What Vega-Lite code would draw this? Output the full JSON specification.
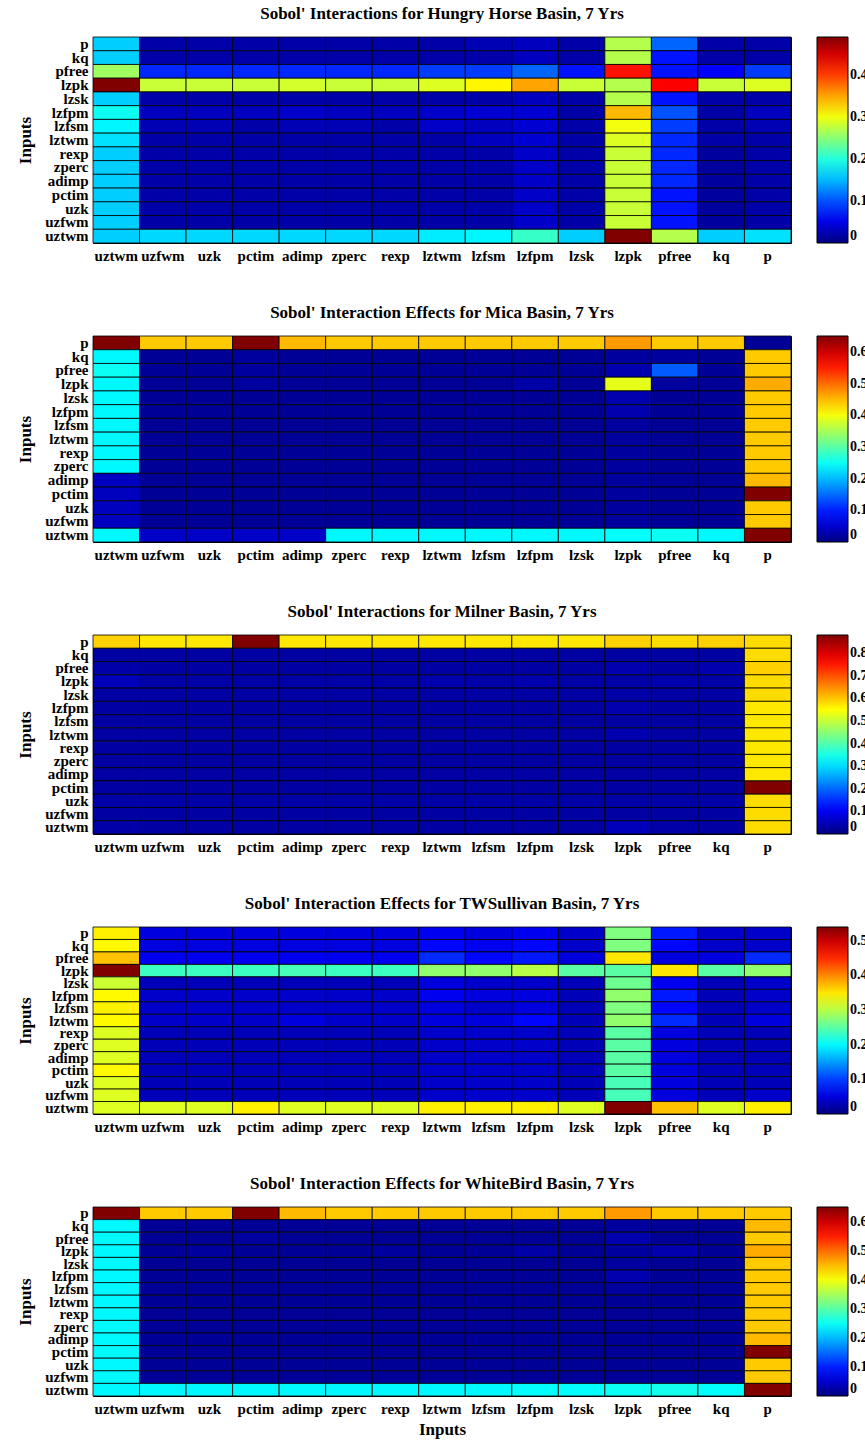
{
"$schema": "https://vega.github.io/schema/vega-lite/v6.json",
"padding": {"left": 16, "top": 4, "right": 0, "bottom": 5},
"background": "white",
"bounds": "flush",
"spacing": 93,
"config": {
  "font": "Liberation Serif",
  "view": {"stroke": "black", "strokeWidth": 1},
  "axis": {"labelFont": "Liberation Serif", "labelFontWeight": "bold", "labelFontSize": 15, "labelColor": "black", "titleFont": "Liberation Serif", "titleFontWeight": "bold", "titleFontSize": 17, "titleColor": "black", "ticks": false, "domain": false, "labelPadding": 5, "labelOverlap": false},
  "legend": {"orient": "right", "offset": 26, "gradientThickness": 31, "gradientStrokeColor": "black", "gradientStrokeWidth": 1, "labelFont": "Liberation Serif", "labelFontWeight": "bold", "labelFontSize": 14, "labelColor": "black", "labelOffset": 4, "padding": 0},
  "title": {"font": "Liberation Serif", "fontSize": 17, "fontWeight": "bold", "color": "black", "offset": 13, "frame": "group", "anchor": "middle", "baseline": "alphabetic"}
},
"resolve": {"scale": {"color": "independent"}},
"datasets": {
"hh": [
{"x":"uztwm","y":"p","v":0.16},{"x":"uzfwm","y":"p","v":0.02},{"x":"uzk","y":"p","v":0.02},{"x":"pctim","y":"p","v":0.02},{"x":"adimp","y":"p","v":0.02},{"x":"zperc","y":"p","v":0.02},{"x":"rexp","y":"p","v":0.02},{"x":"lztwm","y":"p","v":0.02},{"x":"lzfsm","y":"p","v":0.025},{"x":"lzfpm","y":"p","v":0.03},{"x":"lzsk","y":"p","v":0.02},{"x":"lzpk","y":"p","v":0.27},{"x":"pfree","y":"p","v":0.11},{"x":"kq","y":"p","v":0.02},{"x":"p","y":"p","v":0.02},
{"x":"uztwm","y":"kq","v":0.16},{"x":"uzfwm","y":"kq","v":0.02},{"x":"uzk","y":"kq","v":0.02},{"x":"pctim","y":"kq","v":0.02},{"x":"adimp","y":"kq","v":0.02},{"x":"zperc","y":"kq","v":0.02},{"x":"rexp","y":"kq","v":0.02},{"x":"lztwm","y":"kq","v":0.02},{"x":"lzfsm","y":"kq","v":0.02},{"x":"lzfpm","y":"kq","v":0.03},{"x":"lzsk","y":"kq","v":0.02},{"x":"lzpk","y":"kq","v":0.27},{"x":"pfree","y":"kq","v":0.07},{"x":"kq","y":"kq","v":0.02},{"x":"p","y":"kq","v":0.02},
{"x":"uztwm","y":"pfree","v":0.26},{"x":"uzfwm","y":"pfree","v":0.08},{"x":"uzk","y":"pfree","v":0.08},{"x":"pctim","y":"pfree","v":0.08},{"x":"adimp","y":"pfree","v":0.08},{"x":"zperc","y":"pfree","v":0.08},{"x":"rexp","y":"pfree","v":0.08},{"x":"lztwm","y":"pfree","v":0.09},{"x":"lzfsm","y":"pfree","v":0.09},{"x":"lzfpm","y":"pfree","v":0.11},{"x":"lzsk","y":"pfree","v":0.07},{"x":"lzpk","y":"pfree","v":0.42},{"x":"pfree","y":"pfree","v":0.07},{"x":"kq","y":"pfree","v":0.06},{"x":"p","y":"pfree","v":0.09},
{"x":"uztwm","y":"lzpk","v":0.49},{"x":"uzfwm","y":"lzpk","v":0.28},{"x":"uzk","y":"lzpk","v":0.28},{"x":"pctim","y":"lzpk","v":0.28},{"x":"adimp","y":"lzpk","v":0.285},{"x":"zperc","y":"lzpk","v":0.28},{"x":"rexp","y":"lzpk","v":0.28},{"x":"lztwm","y":"lzpk","v":0.29},{"x":"lzfsm","y":"lzpk","v":0.31},{"x":"lzfpm","y":"lzpk","v":0.35},{"x":"lzsk","y":"lzpk","v":0.28},{"x":"lzpk","y":"lzpk","v":0.27},{"x":"pfree","y":"lzpk","v":0.43},{"x":"kq","y":"lzpk","v":0.28},{"x":"p","y":"lzpk","v":0.29},
{"x":"uztwm","y":"lzsk","v":0.16},{"x":"uzfwm","y":"lzsk","v":0.02},{"x":"uzk","y":"lzsk","v":0.02},{"x":"pctim","y":"lzsk","v":0.02},{"x":"adimp","y":"lzsk","v":0.02},{"x":"zperc","y":"lzsk","v":0.02},{"x":"rexp","y":"lzsk","v":0.02},{"x":"lztwm","y":"lzsk","v":0.02},{"x":"lzfsm","y":"lzsk","v":0.02},{"x":"lzfpm","y":"lzsk","v":0.03},{"x":"lzsk","y":"lzsk","v":0.02},{"x":"lzpk","y":"lzsk","v":0.27},{"x":"pfree","y":"lzsk","v":0.07},{"x":"kq","y":"lzsk","v":0.02},{"x":"p","y":"lzsk","v":0.02},
{"x":"uztwm","y":"lzfpm","v":0.19},{"x":"uzfwm","y":"lzfpm","v":0.03},{"x":"uzk","y":"lzfpm","v":0.03},{"x":"pctim","y":"lzfpm","v":0.03},{"x":"adimp","y":"lzfpm","v":0.035},{"x":"zperc","y":"lzfpm","v":0.03},{"x":"rexp","y":"lzfpm","v":0.03},{"x":"lztwm","y":"lzfpm","v":0.035},{"x":"lzfsm","y":"lzfpm","v":0.04},{"x":"lzfpm","y":"lzfpm","v":0.04},{"x":"lzsk","y":"lzfpm","v":0.02},{"x":"lzpk","y":"lzfpm","v":0.34},{"x":"pfree","y":"lzfpm","v":0.1},{"x":"kq","y":"lzfpm","v":0.02},{"x":"p","y":"lzfpm","v":0.03},
{"x":"uztwm","y":"lzfsm","v":0.18},{"x":"uzfwm","y":"lzfsm","v":0.025},{"x":"uzk","y":"lzfsm","v":0.025},{"x":"pctim","y":"lzfsm","v":0.02},{"x":"adimp","y":"lzfsm","v":0.025},{"x":"zperc","y":"lzfsm","v":0.025},{"x":"rexp","y":"lzfsm","v":0.02},{"x":"lztwm","y":"lzfsm","v":0.035},{"x":"lzfsm","y":"lzfsm","v":0.03},{"x":"lzfpm","y":"lzfsm","v":0.04},{"x":"lzsk","y":"lzfsm","v":0.02},{"x":"lzpk","y":"lzfsm","v":0.3},{"x":"pfree","y":"lzfsm","v":0.09},{"x":"kq","y":"lzfsm","v":0.02},{"x":"p","y":"lzfsm","v":0.025},
{"x":"uztwm","y":"lztwm","v":0.17},{"x":"uzfwm","y":"lztwm","v":0.02},{"x":"uzk","y":"lztwm","v":0.02},{"x":"pctim","y":"lztwm","v":0.02},{"x":"adimp","y":"lztwm","v":0.02},{"x":"zperc","y":"lztwm","v":0.02},{"x":"rexp","y":"lztwm","v":0.02},{"x":"lztwm","y":"lztwm","v":0.02},{"x":"lzfsm","y":"lztwm","v":0.03},{"x":"lzfpm","y":"lztwm","v":0.04},{"x":"lzsk","y":"lztwm","v":0.02},{"x":"lzpk","y":"lztwm","v":0.29},{"x":"pfree","y":"lztwm","v":0.08},{"x":"kq","y":"lztwm","v":0.02},{"x":"p","y":"lztwm","v":0.02},
{"x":"uztwm","y":"rexp","v":0.16},{"x":"uzfwm","y":"rexp","v":0.02},{"x":"uzk","y":"rexp","v":0.02},{"x":"pctim","y":"rexp","v":0.02},{"x":"adimp","y":"rexp","v":0.02},{"x":"zperc","y":"rexp","v":0.02},{"x":"rexp","y":"rexp","v":0.02},{"x":"lztwm","y":"rexp","v":0.02},{"x":"lzfsm","y":"rexp","v":0.02},{"x":"lzfpm","y":"rexp","v":0.035},{"x":"lzsk","y":"rexp","v":0.02},{"x":"lzpk","y":"rexp","v":0.28},{"x":"pfree","y":"rexp","v":0.08},{"x":"kq","y":"rexp","v":0.015},{"x":"p","y":"rexp","v":0.02},
{"x":"uztwm","y":"zperc","v":0.16},{"x":"uzfwm","y":"zperc","v":0.02},{"x":"uzk","y":"zperc","v":0.02},{"x":"pctim","y":"zperc","v":0.02},{"x":"adimp","y":"zperc","v":0.02},{"x":"zperc","y":"zperc","v":0.02},{"x":"rexp","y":"zperc","v":0.02},{"x":"lztwm","y":"zperc","v":0.02},{"x":"lzfsm","y":"zperc","v":0.02},{"x":"lzfpm","y":"zperc","v":0.035},{"x":"lzsk","y":"zperc","v":0.02},{"x":"lzpk","y":"zperc","v":0.28},{"x":"pfree","y":"zperc","v":0.08},{"x":"kq","y":"zperc","v":0.015},{"x":"p","y":"zperc","v":0.02},
{"x":"uztwm","y":"adimp","v":0.16},{"x":"uzfwm","y":"adimp","v":0.02},{"x":"uzk","y":"adimp","v":0.02},{"x":"pctim","y":"adimp","v":0.02},{"x":"adimp","y":"adimp","v":0.02},{"x":"zperc","y":"adimp","v":0.02},{"x":"rexp","y":"adimp","v":0.02},{"x":"lztwm","y":"adimp","v":0.02},{"x":"lzfsm","y":"adimp","v":0.02},{"x":"lzfpm","y":"adimp","v":0.035},{"x":"lzsk","y":"adimp","v":0.02},{"x":"lzpk","y":"adimp","v":0.28},{"x":"pfree","y":"adimp","v":0.08},{"x":"kq","y":"adimp","v":0.015},{"x":"p","y":"adimp","v":0.02},
{"x":"uztwm","y":"pctim","v":0.16},{"x":"uzfwm","y":"pctim","v":0.02},{"x":"uzk","y":"pctim","v":0.02},{"x":"pctim","y":"pctim","v":0.02},{"x":"adimp","y":"pctim","v":0.02},{"x":"zperc","y":"pctim","v":0.02},{"x":"rexp","y":"pctim","v":0.02},{"x":"lztwm","y":"pctim","v":0.02},{"x":"lzfsm","y":"pctim","v":0.02},{"x":"lzfpm","y":"pctim","v":0.035},{"x":"lzsk","y":"pctim","v":0.02},{"x":"lzpk","y":"pctim","v":0.28},{"x":"pfree","y":"pctim","v":0.07},{"x":"kq","y":"pctim","v":0.015},{"x":"p","y":"pctim","v":0.02},
{"x":"uztwm","y":"uzk","v":0.16},{"x":"uzfwm","y":"uzk","v":0.02},{"x":"uzk","y":"uzk","v":0.02},{"x":"pctim","y":"uzk","v":0.02},{"x":"adimp","y":"uzk","v":0.02},{"x":"zperc","y":"uzk","v":0.02},{"x":"rexp","y":"uzk","v":0.02},{"x":"lztwm","y":"uzk","v":0.02},{"x":"lzfsm","y":"uzk","v":0.02},{"x":"lzfpm","y":"uzk","v":0.035},{"x":"lzsk","y":"uzk","v":0.02},{"x":"lzpk","y":"uzk","v":0.28},{"x":"pfree","y":"uzk","v":0.07},{"x":"kq","y":"uzk","v":0.015},{"x":"p","y":"uzk","v":0.02},
{"x":"uztwm","y":"uzfwm","v":0.16},{"x":"uzfwm","y":"uzfwm","v":0.02},{"x":"uzk","y":"uzfwm","v":0.02},{"x":"pctim","y":"uzfwm","v":0.02},{"x":"adimp","y":"uzfwm","v":0.02},{"x":"zperc","y":"uzfwm","v":0.02},{"x":"rexp","y":"uzfwm","v":0.02},{"x":"lztwm","y":"uzfwm","v":0.02},{"x":"lzfsm","y":"uzfwm","v":0.02},{"x":"lzfpm","y":"uzfwm","v":0.035},{"x":"lzsk","y":"uzfwm","v":0.02},{"x":"lzpk","y":"uzfwm","v":0.28},{"x":"pfree","y":"uzfwm","v":0.07},{"x":"kq","y":"uzfwm","v":0.015},{"x":"p","y":"uzfwm","v":0.02},
{"x":"uztwm","y":"uztwm","v":0.16},{"x":"uzfwm","y":"uztwm","v":0.165},{"x":"uzk","y":"uztwm","v":0.165},{"x":"pctim","y":"uztwm","v":0.165},{"x":"adimp","y":"uztwm","v":0.165},{"x":"zperc","y":"uztwm","v":0.165},{"x":"rexp","y":"uztwm","v":0.165},{"x":"lztwm","y":"uztwm","v":0.175},{"x":"lzfsm","y":"uztwm","v":0.18},{"x":"lzfpm","y":"uztwm","v":0.21},{"x":"lzsk","y":"uztwm","v":0.16},{"x":"lzpk","y":"uztwm","v":0.49},{"x":"pfree","y":"uztwm","v":0.27},{"x":"kq","y":"uztwm","v":0.16},{"x":"p","y":"uztwm","v":0.17}
],
"mica": [
{"x":"uztwm","y":"p","v":0.65},{"x":"uzfwm","y":"p","v":0.44},{"x":"uzk","y":"p","v":0.44},{"x":"pctim","y":"p","v":0.65},{"x":"adimp","y":"p","v":0.45},{"x":"zperc","y":"p","v":0.44},{"x":"rexp","y":"p","v":0.44},{"x":"lztwm","y":"p","v":0.44},{"x":"lzfsm","y":"p","v":0.44},{"x":"lzfpm","y":"p","v":0.44},{"x":"lzsk","y":"p","v":0.44},{"x":"lzpk","y":"p","v":0.47},{"x":"pfree","y":"p","v":0.44},{"x":"kq","y":"p","v":0.44},{"x":"p","y":"p","v":0.015},
{"x":"uztwm","y":"kq","v":0.24},{"x":"uzfwm","y":"kq","v":0.015},{"x":"uzk","y":"kq","v":0.015},{"x":"pctim","y":"kq","v":0.02},{"x":"adimp","y":"kq","v":0.015},{"x":"zperc","y":"kq","v":0.015},{"x":"rexp","y":"kq","v":0.015},{"x":"lztwm","y":"kq","v":0.015},{"x":"lzfsm","y":"kq","v":0.015},{"x":"lzfpm","y":"kq","v":0.015},{"x":"lzsk","y":"kq","v":0.015},{"x":"lzpk","y":"kq","v":0.02},{"x":"pfree","y":"kq","v":0.02},{"x":"kq","y":"kq","v":0.015},{"x":"p","y":"kq","v":0.44},
{"x":"uztwm","y":"pfree","v":0.25},{"x":"uzfwm","y":"pfree","v":0.015},{"x":"uzk","y":"pfree","v":0.015},{"x":"pctim","y":"pfree","v":0.02},{"x":"adimp","y":"pfree","v":0.015},{"x":"zperc","y":"pfree","v":0.015},{"x":"rexp","y":"pfree","v":0.015},{"x":"lztwm","y":"pfree","v":0.015},{"x":"lzfsm","y":"pfree","v":0.015},{"x":"lzfpm","y":"pfree","v":0.015},{"x":"lzsk","y":"pfree","v":0.015},{"x":"lzpk","y":"pfree","v":0.03},{"x":"pfree","y":"pfree","v":0.14},{"x":"kq","y":"pfree","v":0.015},{"x":"p","y":"pfree","v":0.44},
{"x":"uztwm","y":"lzpk","v":0.24},{"x":"uzfwm","y":"lzpk","v":0.015},{"x":"uzk","y":"lzpk","v":0.015},{"x":"pctim","y":"lzpk","v":0.02},{"x":"adimp","y":"lzpk","v":0.015},{"x":"zperc","y":"lzpk","v":0.015},{"x":"rexp","y":"lzpk","v":0.015},{"x":"lztwm","y":"lzpk","v":0.015},{"x":"lzfsm","y":"lzpk","v":0.015},{"x":"lzfpm","y":"lzpk","v":0.025},{"x":"lzsk","y":"lzpk","v":0.015},{"x":"lzpk","y":"lzpk","v":0.39},{"x":"pfree","y":"lzpk","v":0.02},{"x":"kq","y":"lzpk","v":0.015},{"x":"p","y":"lzpk","v":0.46},
{"x":"uztwm","y":"lzsk","v":0.24},{"x":"uzfwm","y":"lzsk","v":0.015},{"x":"uzk","y":"lzsk","v":0.015},{"x":"pctim","y":"lzsk","v":0.015},{"x":"adimp","y":"lzsk","v":0.015},{"x":"zperc","y":"lzsk","v":0.015},{"x":"rexp","y":"lzsk","v":0.015},{"x":"lztwm","y":"lzsk","v":0.015},{"x":"lzfsm","y":"lzsk","v":0.015},{"x":"lzfpm","y":"lzsk","v":0.015},{"x":"lzsk","y":"lzsk","v":0.015},{"x":"lzpk","y":"lzsk","v":0.03},{"x":"pfree","y":"lzsk","v":0.015},{"x":"kq","y":"lzsk","v":0.015},{"x":"p","y":"lzsk","v":0.44},
{"x":"uztwm","y":"lzfpm","v":0.24},{"x":"uzfwm","y":"lzfpm","v":0.015},{"x":"uzk","y":"lzfpm","v":0.015},{"x":"pctim","y":"lzfpm","v":0.015},{"x":"adimp","y":"lzfpm","v":0.015},{"x":"zperc","y":"lzfpm","v":0.015},{"x":"rexp","y":"lzfpm","v":0.015},{"x":"lztwm","y":"lzfpm","v":0.015},{"x":"lzfsm","y":"lzfpm","v":0.015},{"x":"lzfpm","y":"lzfpm","v":0.015},{"x":"lzsk","y":"lzfpm","v":0.015},{"x":"lzpk","y":"lzfpm","v":0.03},{"x":"pfree","y":"lzfpm","v":0.015},{"x":"kq","y":"lzfpm","v":0.015},{"x":"p","y":"lzfpm","v":0.44},
{"x":"uztwm","y":"lzfsm","v":0.24},{"x":"uzfwm","y":"lzfsm","v":0.015},{"x":"uzk","y":"lzfsm","v":0.015},{"x":"pctim","y":"lzfsm","v":0.015},{"x":"adimp","y":"lzfsm","v":0.015},{"x":"zperc","y":"lzfsm","v":0.015},{"x":"rexp","y":"lzfsm","v":0.015},{"x":"lztwm","y":"lzfsm","v":0.015},{"x":"lzfsm","y":"lzfsm","v":0.015},{"x":"lzfpm","y":"lzfsm","v":0.015},{"x":"lzsk","y":"lzfsm","v":0.015},{"x":"lzpk","y":"lzfsm","v":0.02},{"x":"pfree","y":"lzfsm","v":0.015},{"x":"kq","y":"lzfsm","v":0.015},{"x":"p","y":"lzfsm","v":0.44},
{"x":"uztwm","y":"lztwm","v":0.24},{"x":"uzfwm","y":"lztwm","v":0.015},{"x":"uzk","y":"lztwm","v":0.015},{"x":"pctim","y":"lztwm","v":0.015},{"x":"adimp","y":"lztwm","v":0.015},{"x":"zperc","y":"lztwm","v":0.015},{"x":"rexp","y":"lztwm","v":0.015},{"x":"lztwm","y":"lztwm","v":0.015},{"x":"lzfsm","y":"lztwm","v":0.015},{"x":"lzfpm","y":"lztwm","v":0.015},{"x":"lzsk","y":"lztwm","v":0.015},{"x":"lzpk","y":"lztwm","v":0.02},{"x":"pfree","y":"lztwm","v":0.015},{"x":"kq","y":"lztwm","v":0.015},{"x":"p","y":"lztwm","v":0.44},
{"x":"uztwm","y":"rexp","v":0.24},{"x":"uzfwm","y":"rexp","v":0.015},{"x":"uzk","y":"rexp","v":0.015},{"x":"pctim","y":"rexp","v":0.015},{"x":"adimp","y":"rexp","v":0.015},{"x":"zperc","y":"rexp","v":0.015},{"x":"rexp","y":"rexp","v":0.015},{"x":"lztwm","y":"rexp","v":0.015},{"x":"lzfsm","y":"rexp","v":0.015},{"x":"lzfpm","y":"rexp","v":0.015},{"x":"lzsk","y":"rexp","v":0.015},{"x":"lzpk","y":"rexp","v":0.02},{"x":"pfree","y":"rexp","v":0.015},{"x":"kq","y":"rexp","v":0.015},{"x":"p","y":"rexp","v":0.44},
{"x":"uztwm","y":"zperc","v":0.24},{"x":"uzfwm","y":"zperc","v":0.015},{"x":"uzk","y":"zperc","v":0.015},{"x":"pctim","y":"zperc","v":0.015},{"x":"adimp","y":"zperc","v":0.015},{"x":"zperc","y":"zperc","v":0.015},{"x":"rexp","y":"zperc","v":0.015},{"x":"lztwm","y":"zperc","v":0.015},{"x":"lzfsm","y":"zperc","v":0.015},{"x":"lzfpm","y":"zperc","v":0.015},{"x":"lzsk","y":"zperc","v":0.015},{"x":"lzpk","y":"zperc","v":0.02},{"x":"pfree","y":"zperc","v":0.015},{"x":"kq","y":"zperc","v":0.015},{"x":"p","y":"zperc","v":0.44},
{"x":"uztwm","y":"adimp","v":0.04},{"x":"uzfwm","y":"adimp","v":0.015},{"x":"uzk","y":"adimp","v":0.015},{"x":"pctim","y":"adimp","v":0.015},{"x":"adimp","y":"adimp","v":0.015},{"x":"zperc","y":"adimp","v":0.015},{"x":"rexp","y":"adimp","v":0.015},{"x":"lztwm","y":"adimp","v":0.015},{"x":"lzfsm","y":"adimp","v":0.015},{"x":"lzfpm","y":"adimp","v":0.015},{"x":"lzsk","y":"adimp","v":0.015},{"x":"lzpk","y":"adimp","v":0.02},{"x":"pfree","y":"adimp","v":0.015},{"x":"kq","y":"adimp","v":0.015},{"x":"p","y":"adimp","v":0.45},
{"x":"uztwm","y":"pctim","v":0.04},{"x":"uzfwm","y":"pctim","v":0.015},{"x":"uzk","y":"pctim","v":0.015},{"x":"pctim","y":"pctim","v":0.015},{"x":"adimp","y":"pctim","v":0.015},{"x":"zperc","y":"pctim","v":0.015},{"x":"rexp","y":"pctim","v":0.015},{"x":"lztwm","y":"pctim","v":0.015},{"x":"lzfsm","y":"pctim","v":0.015},{"x":"lzfpm","y":"pctim","v":0.015},{"x":"lzsk","y":"pctim","v":0.015},{"x":"lzpk","y":"pctim","v":0.02},{"x":"pfree","y":"pctim","v":0.015},{"x":"kq","y":"pctim","v":0.015},{"x":"p","y":"pctim","v":0.65},
{"x":"uztwm","y":"uzk","v":0.04},{"x":"uzfwm","y":"uzk","v":0.015},{"x":"uzk","y":"uzk","v":0.015},{"x":"pctim","y":"uzk","v":0.015},{"x":"adimp","y":"uzk","v":0.015},{"x":"zperc","y":"uzk","v":0.015},{"x":"rexp","y":"uzk","v":0.015},{"x":"lztwm","y":"uzk","v":0.015},{"x":"lzfsm","y":"uzk","v":0.015},{"x":"lzfpm","y":"uzk","v":0.015},{"x":"lzsk","y":"uzk","v":0.015},{"x":"lzpk","y":"uzk","v":0.02},{"x":"pfree","y":"uzk","v":0.015},{"x":"kq","y":"uzk","v":0.015},{"x":"p","y":"uzk","v":0.44},
{"x":"uztwm","y":"uzfwm","v":0.04},{"x":"uzfwm","y":"uzfwm","v":0.015},{"x":"uzk","y":"uzfwm","v":0.015},{"x":"pctim","y":"uzfwm","v":0.015},{"x":"adimp","y":"uzfwm","v":0.015},{"x":"zperc","y":"uzfwm","v":0.015},{"x":"rexp","y":"uzfwm","v":0.015},{"x":"lztwm","y":"uzfwm","v":0.015},{"x":"lzfsm","y":"uzfwm","v":0.015},{"x":"lzfpm","y":"uzfwm","v":0.015},{"x":"lzsk","y":"uzfwm","v":0.015},{"x":"lzpk","y":"uzfwm","v":0.02},{"x":"pfree","y":"uzfwm","v":0.015},{"x":"kq","y":"uzfwm","v":0.015},{"x":"p","y":"uzfwm","v":0.44},
{"x":"uztwm","y":"uztwm","v":0.24},{"x":"uzfwm","y":"uztwm","v":0.045},{"x":"uzk","y":"uztwm","v":0.045},{"x":"pctim","y":"uztwm","v":0.045},{"x":"adimp","y":"uztwm","v":0.045},{"x":"zperc","y":"uztwm","v":0.24},{"x":"rexp","y":"uztwm","v":0.24},{"x":"lztwm","y":"uztwm","v":0.24},{"x":"lzfsm","y":"uztwm","v":0.24},{"x":"lzfpm","y":"uztwm","v":0.24},{"x":"lzsk","y":"uztwm","v":0.24},{"x":"lzpk","y":"uztwm","v":0.245},{"x":"pfree","y":"uztwm","v":0.25},{"x":"kq","y":"uztwm","v":0.24},{"x":"p","y":"uztwm","v":0.65}
],
"milner": [
{"x":"uztwm","y":"p","v":0.59},{"x":"uzfwm","y":"p","v":0.57},{"x":"uzk","y":"p","v":0.57},{"x":"pctim","y":"p","v":0.88},{"x":"adimp","y":"p","v":0.57},{"x":"zperc","y":"p","v":0.57},{"x":"rexp","y":"p","v":0.57},{"x":"lztwm","y":"p","v":0.57},{"x":"lzfsm","y":"p","v":0.57},{"x":"lzfpm","y":"p","v":0.57},{"x":"lzsk","y":"p","v":0.57},{"x":"lzpk","y":"p","v":0.59},{"x":"pfree","y":"p","v":0.58},{"x":"kq","y":"p","v":0.59},{"x":"p","y":"p","v":0.58},
{"x":"uztwm","y":"kq","v":0.03},{"x":"uzfwm","y":"kq","v":0.03},{"x":"uzk","y":"kq","v":0.03},{"x":"pctim","y":"kq","v":0.03},{"x":"adimp","y":"kq","v":0.03},{"x":"zperc","y":"kq","v":0.03},{"x":"rexp","y":"kq","v":0.03},{"x":"lztwm","y":"kq","v":0.03},{"x":"lzfsm","y":"kq","v":0.03},{"x":"lzfpm","y":"kq","v":0.03},{"x":"lzsk","y":"kq","v":0.03},{"x":"lzpk","y":"kq","v":0.03},{"x":"pfree","y":"kq","v":0.03},{"x":"kq","y":"kq","v":0.03},{"x":"p","y":"kq","v":0.58},
{"x":"uztwm","y":"pfree","v":0.035},{"x":"uzfwm","y":"pfree","v":0.03},{"x":"uzk","y":"pfree","v":0.03},{"x":"pctim","y":"pfree","v":0.03},{"x":"adimp","y":"pfree","v":0.03},{"x":"zperc","y":"pfree","v":0.03},{"x":"rexp","y":"pfree","v":0.03},{"x":"lztwm","y":"pfree","v":0.03},{"x":"lzfsm","y":"pfree","v":0.03},{"x":"lzfpm","y":"pfree","v":0.03},{"x":"lzsk","y":"pfree","v":0.03},{"x":"lzpk","y":"pfree","v":0.04},{"x":"pfree","y":"pfree","v":0.03},{"x":"kq","y":"pfree","v":0.04},{"x":"p","y":"pfree","v":0.59},
{"x":"uztwm","y":"lzpk","v":0.05},{"x":"uzfwm","y":"lzpk","v":0.035},{"x":"uzk","y":"lzpk","v":0.035},{"x":"pctim","y":"lzpk","v":0.035},{"x":"adimp","y":"lzpk","v":0.035},{"x":"zperc","y":"lzpk","v":0.035},{"x":"rexp","y":"lzpk","v":0.035},{"x":"lztwm","y":"lzpk","v":0.04},{"x":"lzfsm","y":"lzpk","v":0.035},{"x":"lzfpm","y":"lzpk","v":0.04},{"x":"lzsk","y":"lzpk","v":0.035},{"x":"lzpk","y":"lzpk","v":0.035},{"x":"pfree","y":"lzpk","v":0.04},{"x":"kq","y":"lzpk","v":0.035},{"x":"p","y":"lzpk","v":0.58},
{"x":"uztwm","y":"lzsk","v":0.03},{"x":"uzfwm","y":"lzsk","v":0.03},{"x":"uzk","y":"lzsk","v":0.03},{"x":"pctim","y":"lzsk","v":0.03},{"x":"adimp","y":"lzsk","v":0.03},{"x":"zperc","y":"lzsk","v":0.03},{"x":"rexp","y":"lzsk","v":0.03},{"x":"lztwm","y":"lzsk","v":0.03},{"x":"lzfsm","y":"lzsk","v":0.03},{"x":"lzfpm","y":"lzsk","v":0.03},{"x":"lzsk","y":"lzsk","v":0.03},{"x":"lzpk","y":"lzsk","v":0.035},{"x":"pfree","y":"lzsk","v":0.03},{"x":"kq","y":"lzsk","v":0.03},{"x":"p","y":"lzsk","v":0.58},
{"x":"uztwm","y":"lzfpm","v":0.03},{"x":"uzfwm","y":"lzfpm","v":0.03},{"x":"uzk","y":"lzfpm","v":0.03},{"x":"pctim","y":"lzfpm","v":0.03},{"x":"adimp","y":"lzfpm","v":0.03},{"x":"zperc","y":"lzfpm","v":0.03},{"x":"rexp","y":"lzfpm","v":0.03},{"x":"lztwm","y":"lzfpm","v":0.03},{"x":"lzfsm","y":"lzfpm","v":0.03},{"x":"lzfpm","y":"lzfpm","v":0.03},{"x":"lzsk","y":"lzfpm","v":0.03},{"x":"lzpk","y":"lzfpm","v":0.04},{"x":"pfree","y":"lzfpm","v":0.03},{"x":"kq","y":"lzfpm","v":0.03},{"x":"p","y":"lzfpm","v":0.57},
{"x":"uztwm","y":"lzfsm","v":0.03},{"x":"uzfwm","y":"lzfsm","v":0.03},{"x":"uzk","y":"lzfsm","v":0.03},{"x":"pctim","y":"lzfsm","v":0.03},{"x":"adimp","y":"lzfsm","v":0.03},{"x":"zperc","y":"lzfsm","v":0.03},{"x":"rexp","y":"lzfsm","v":0.03},{"x":"lztwm","y":"lzfsm","v":0.03},{"x":"lzfsm","y":"lzfsm","v":0.03},{"x":"lzfpm","y":"lzfsm","v":0.03},{"x":"lzsk","y":"lzfsm","v":0.03},{"x":"lzpk","y":"lzfsm","v":0.03},{"x":"pfree","y":"lzfsm","v":0.03},{"x":"kq","y":"lzfsm","v":0.03},{"x":"p","y":"lzfsm","v":0.57},
{"x":"uztwm","y":"lztwm","v":0.03},{"x":"uzfwm","y":"lztwm","v":0.03},{"x":"uzk","y":"lztwm","v":0.03},{"x":"pctim","y":"lztwm","v":0.03},{"x":"adimp","y":"lztwm","v":0.03},{"x":"zperc","y":"lztwm","v":0.03},{"x":"rexp","y":"lztwm","v":0.03},{"x":"lztwm","y":"lztwm","v":0.03},{"x":"lzfsm","y":"lztwm","v":0.03},{"x":"lzfpm","y":"lztwm","v":0.03},{"x":"lzsk","y":"lztwm","v":0.03},{"x":"lzpk","y":"lztwm","v":0.04},{"x":"pfree","y":"lztwm","v":0.03},{"x":"kq","y":"lztwm","v":0.03},{"x":"p","y":"lztwm","v":0.57},
{"x":"uztwm","y":"rexp","v":0.03},{"x":"uzfwm","y":"rexp","v":0.03},{"x":"uzk","y":"rexp","v":0.03},{"x":"pctim","y":"rexp","v":0.03},{"x":"adimp","y":"rexp","v":0.03},{"x":"zperc","y":"rexp","v":0.03},{"x":"rexp","y":"rexp","v":0.03},{"x":"lztwm","y":"rexp","v":0.03},{"x":"lzfsm","y":"rexp","v":0.03},{"x":"lzfpm","y":"rexp","v":0.03},{"x":"lzsk","y":"rexp","v":0.03},{"x":"lzpk","y":"rexp","v":0.03},{"x":"pfree","y":"rexp","v":0.03},{"x":"kq","y":"rexp","v":0.03},{"x":"p","y":"rexp","v":0.57},
{"x":"uztwm","y":"zperc","v":0.03},{"x":"uzfwm","y":"zperc","v":0.03},{"x":"uzk","y":"zperc","v":0.03},{"x":"pctim","y":"zperc","v":0.03},{"x":"adimp","y":"zperc","v":0.03},{"x":"zperc","y":"zperc","v":0.03},{"x":"rexp","y":"zperc","v":0.03},{"x":"lztwm","y":"zperc","v":0.03},{"x":"lzfsm","y":"zperc","v":0.03},{"x":"lzfpm","y":"zperc","v":0.03},{"x":"lzsk","y":"zperc","v":0.03},{"x":"lzpk","y":"zperc","v":0.03},{"x":"pfree","y":"zperc","v":0.03},{"x":"kq","y":"zperc","v":0.03},{"x":"p","y":"zperc","v":0.57},
{"x":"uztwm","y":"adimp","v":0.03},{"x":"uzfwm","y":"adimp","v":0.03},{"x":"uzk","y":"adimp","v":0.03},{"x":"pctim","y":"adimp","v":0.03},{"x":"adimp","y":"adimp","v":0.03},{"x":"zperc","y":"adimp","v":0.03},{"x":"rexp","y":"adimp","v":0.03},{"x":"lztwm","y":"adimp","v":0.03},{"x":"lzfsm","y":"adimp","v":0.03},{"x":"lzfpm","y":"adimp","v":0.03},{"x":"lzsk","y":"adimp","v":0.03},{"x":"lzpk","y":"adimp","v":0.03},{"x":"pfree","y":"adimp","v":0.03},{"x":"kq","y":"adimp","v":0.03},{"x":"p","y":"adimp","v":0.57},
{"x":"uztwm","y":"pctim","v":0.03},{"x":"uzfwm","y":"pctim","v":0.03},{"x":"uzk","y":"pctim","v":0.03},{"x":"pctim","y":"pctim","v":0.03},{"x":"adimp","y":"pctim","v":0.03},{"x":"zperc","y":"pctim","v":0.03},{"x":"rexp","y":"pctim","v":0.03},{"x":"lztwm","y":"pctim","v":0.03},{"x":"lzfsm","y":"pctim","v":0.03},{"x":"lzfpm","y":"pctim","v":0.03},{"x":"lzsk","y":"pctim","v":0.03},{"x":"lzpk","y":"pctim","v":0.03},{"x":"pfree","y":"pctim","v":0.03},{"x":"kq","y":"pctim","v":0.03},{"x":"p","y":"pctim","v":0.88},
{"x":"uztwm","y":"uzk","v":0.035},{"x":"uzfwm","y":"uzk","v":0.035},{"x":"uzk","y":"uzk","v":0.035},{"x":"pctim","y":"uzk","v":0.035},{"x":"adimp","y":"uzk","v":0.035},{"x":"zperc","y":"uzk","v":0.035},{"x":"rexp","y":"uzk","v":0.035},{"x":"lztwm","y":"uzk","v":0.035},{"x":"lzfsm","y":"uzk","v":0.035},{"x":"lzfpm","y":"uzk","v":0.035},{"x":"lzsk","y":"uzk","v":0.035},{"x":"lzpk","y":"uzk","v":0.035},{"x":"pfree","y":"uzk","v":0.035},{"x":"kq","y":"uzk","v":0.035},{"x":"p","y":"uzk","v":0.58},
{"x":"uztwm","y":"uzfwm","v":0.03},{"x":"uzfwm","y":"uzfwm","v":0.03},{"x":"uzk","y":"uzfwm","v":0.03},{"x":"pctim","y":"uzfwm","v":0.03},{"x":"adimp","y":"uzfwm","v":0.03},{"x":"zperc","y":"uzfwm","v":0.03},{"x":"rexp","y":"uzfwm","v":0.03},{"x":"lztwm","y":"uzfwm","v":0.03},{"x":"lzfsm","y":"uzfwm","v":0.03},{"x":"lzfpm","y":"uzfwm","v":0.03},{"x":"lzsk","y":"uzfwm","v":0.03},{"x":"lzpk","y":"uzfwm","v":0.03},{"x":"pfree","y":"uzfwm","v":0.03},{"x":"kq","y":"uzfwm","v":0.03},{"x":"p","y":"uzfwm","v":0.58},
{"x":"uztwm","y":"uztwm","v":0.035},{"x":"uzfwm","y":"uztwm","v":0.03},{"x":"uzk","y":"uztwm","v":0.03},{"x":"pctim","y":"uztwm","v":0.03},{"x":"adimp","y":"uztwm","v":0.03},{"x":"zperc","y":"uztwm","v":0.03},{"x":"rexp","y":"uztwm","v":0.03},{"x":"lztwm","y":"uztwm","v":0.03},{"x":"lzfsm","y":"uztwm","v":0.03},{"x":"lzfpm","y":"uztwm","v":0.03},{"x":"lzsk","y":"uztwm","v":0.03},{"x":"lzpk","y":"uztwm","v":0.05},{"x":"pfree","y":"uztwm","v":0.035},{"x":"kq","y":"uztwm","v":0.03},{"x":"p","y":"uztwm","v":0.58}
],
"tws": [
{"x":"uztwm","y":"p","v":0.345},{"x":"uzfwm","y":"p","v":0.05},{"x":"uzk","y":"p","v":0.05},{"x":"pctim","y":"p","v":0.05},{"x":"adimp","y":"p","v":0.05},{"x":"zperc","y":"p","v":0.05},{"x":"rexp","y":"p","v":0.05},{"x":"lztwm","y":"p","v":0.06},{"x":"lzfsm","y":"p","v":0.05},{"x":"lzfpm","y":"p","v":0.06},{"x":"lzsk","y":"p","v":0.04},{"x":"lzpk","y":"p","v":0.27},{"x":"pfree","y":"p","v":0.08},{"x":"kq","y":"p","v":0.04},{"x":"p","y":"p","v":0.04},
{"x":"uztwm","y":"kq","v":0.34},{"x":"uzfwm","y":"kq","v":0.05},{"x":"uzk","y":"kq","v":0.05},{"x":"pctim","y":"kq","v":0.05},{"x":"adimp","y":"kq","v":0.05},{"x":"zperc","y":"kq","v":0.05},{"x":"rexp","y":"kq","v":0.05},{"x":"lztwm","y":"kq","v":0.07},{"x":"lzfsm","y":"kq","v":0.06},{"x":"lzfpm","y":"kq","v":0.07},{"x":"lzsk","y":"kq","v":0.04},{"x":"lzpk","y":"kq","v":0.27},{"x":"pfree","y":"kq","v":0.07},{"x":"kq","y":"kq","v":0.04},{"x":"p","y":"kq","v":0.04},
{"x":"uztwm","y":"pfree","v":0.37},{"x":"uzfwm","y":"pfree","v":0.06},{"x":"uzk","y":"pfree","v":0.06},{"x":"pctim","y":"pfree","v":0.06},{"x":"adimp","y":"pfree","v":0.06},{"x":"zperc","y":"pfree","v":0.06},{"x":"rexp","y":"pfree","v":0.06},{"x":"lztwm","y":"pfree","v":0.09},{"x":"lzfsm","y":"pfree","v":0.07},{"x":"lzfpm","y":"pfree","v":0.08},{"x":"lzsk","y":"pfree","v":0.05},{"x":"lzpk","y":"pfree","v":0.35},{"x":"pfree","y":"pfree","v":0.05},{"x":"kq","y":"pfree","v":0.05},{"x":"p","y":"pfree","v":0.09},
{"x":"uztwm","y":"lzpk","v":0.54},{"x":"uzfwm","y":"lzpk","v":0.235},{"x":"uzk","y":"lzpk","v":0.235},{"x":"pctim","y":"lzpk","v":0.235},{"x":"adimp","y":"lzpk","v":0.24},{"x":"zperc","y":"lzpk","v":0.235},{"x":"rexp","y":"lzpk","v":0.235},{"x":"lztwm","y":"lzpk","v":0.28},{"x":"lzfsm","y":"lzpk","v":0.28},{"x":"lzfpm","y":"lzpk","v":0.3},{"x":"lzsk","y":"lzpk","v":0.25},{"x":"lzpk","y":"lzpk","v":0.25},{"x":"pfree","y":"lzpk","v":0.35},{"x":"kq","y":"lzpk","v":0.25},{"x":"p","y":"lzpk","v":0.28},
{"x":"uztwm","y":"lzsk","v":0.31},{"x":"uzfwm","y":"lzsk","v":0.03},{"x":"uzk","y":"lzsk","v":0.03},{"x":"pctim","y":"lzsk","v":0.03},{"x":"adimp","y":"lzsk","v":0.03},{"x":"zperc","y":"lzsk","v":0.03},{"x":"rexp","y":"lzsk","v":0.03},{"x":"lztwm","y":"lzsk","v":0.05},{"x":"lzfsm","y":"lzsk","v":0.04},{"x":"lzfpm","y":"lzsk","v":0.04},{"x":"lzsk","y":"lzsk","v":0.03},{"x":"lzpk","y":"lzsk","v":0.26},{"x":"pfree","y":"lzsk","v":0.06},{"x":"kq","y":"lzsk","v":0.03},{"x":"p","y":"lzsk","v":0.04},
{"x":"uztwm","y":"lzfpm","v":0.34},{"x":"uzfwm","y":"lzfpm","v":0.04},{"x":"uzk","y":"lzfpm","v":0.04},{"x":"pctim","y":"lzfpm","v":0.04},{"x":"adimp","y":"lzfpm","v":0.04},{"x":"zperc","y":"lzfpm","v":0.04},{"x":"rexp","y":"lzfpm","v":0.04},{"x":"lztwm","y":"lzfpm","v":0.06},{"x":"lzfsm","y":"lzfpm","v":0.05},{"x":"lzfpm","y":"lzfpm","v":0.05},{"x":"lzsk","y":"lzfpm","v":0.03},{"x":"lzpk","y":"lzfpm","v":0.28},{"x":"pfree","y":"lzfpm","v":0.08},{"x":"kq","y":"lzfpm","v":0.03},{"x":"p","y":"lzfpm","v":0.04},
{"x":"uztwm","y":"lzfsm","v":0.345},{"x":"uzfwm","y":"lzfsm","v":0.04},{"x":"uzk","y":"lzfsm","v":0.04},{"x":"pctim","y":"lzfsm","v":0.04},{"x":"adimp","y":"lzfsm","v":0.04},{"x":"zperc","y":"lzfsm","v":0.04},{"x":"rexp","y":"lzfsm","v":0.04},{"x":"lztwm","y":"lzfsm","v":0.05},{"x":"lzfsm","y":"lzfsm","v":0.04},{"x":"lzfpm","y":"lzfsm","v":0.05},{"x":"lzsk","y":"lzfsm","v":0.03},{"x":"lzpk","y":"lzfsm","v":0.27},{"x":"pfree","y":"lzfsm","v":0.07},{"x":"kq","y":"lzfsm","v":0.03},{"x":"p","y":"lzfsm","v":0.04},
{"x":"uztwm","y":"lztwm","v":0.34},{"x":"uzfwm","y":"lztwm","v":0.04},{"x":"uzk","y":"lztwm","v":0.04},{"x":"pctim","y":"lztwm","v":0.04},{"x":"adimp","y":"lztwm","v":0.05},{"x":"zperc","y":"lztwm","v":0.04},{"x":"rexp","y":"lztwm","v":0.04},{"x":"lztwm","y":"lztwm","v":0.05},{"x":"lzfsm","y":"lztwm","v":0.05},{"x":"lzfpm","y":"lztwm","v":0.07},{"x":"lzsk","y":"lztwm","v":0.03},{"x":"lzpk","y":"lztwm","v":0.28},{"x":"pfree","y":"lztwm","v":0.09},{"x":"kq","y":"lztwm","v":0.03},{"x":"p","y":"lztwm","v":0.05},
{"x":"uztwm","y":"rexp","v":0.32},{"x":"uzfwm","y":"rexp","v":0.03},{"x":"uzk","y":"rexp","v":0.03},{"x":"pctim","y":"rexp","v":0.03},{"x":"adimp","y":"rexp","v":0.03},{"x":"zperc","y":"rexp","v":0.03},{"x":"rexp","y":"rexp","v":0.03},{"x":"lztwm","y":"rexp","v":0.04},{"x":"lzfsm","y":"rexp","v":0.04},{"x":"lzfpm","y":"rexp","v":0.04},{"x":"lzsk","y":"rexp","v":0.03},{"x":"lzpk","y":"rexp","v":0.25},{"x":"pfree","y":"rexp","v":0.05},{"x":"kq","y":"rexp","v":0.03},{"x":"p","y":"rexp","v":0.03},
{"x":"uztwm","y":"zperc","v":0.32},{"x":"uzfwm","y":"zperc","v":0.03},{"x":"uzk","y":"zperc","v":0.03},{"x":"pctim","y":"zperc","v":0.03},{"x":"adimp","y":"zperc","v":0.03},{"x":"zperc","y":"zperc","v":0.03},{"x":"rexp","y":"zperc","v":0.03},{"x":"lztwm","y":"zperc","v":0.04},{"x":"lzfsm","y":"zperc","v":0.04},{"x":"lzfpm","y":"zperc","v":0.04},{"x":"lzsk","y":"zperc","v":0.03},{"x":"lzpk","y":"zperc","v":0.25},{"x":"pfree","y":"zperc","v":0.05},{"x":"kq","y":"zperc","v":0.03},{"x":"p","y":"zperc","v":0.03},
{"x":"uztwm","y":"adimp","v":0.32},{"x":"uzfwm","y":"adimp","v":0.03},{"x":"uzk","y":"adimp","v":0.03},{"x":"pctim","y":"adimp","v":0.03},{"x":"adimp","y":"adimp","v":0.03},{"x":"zperc","y":"adimp","v":0.03},{"x":"rexp","y":"adimp","v":0.03},{"x":"lztwm","y":"adimp","v":0.04},{"x":"lzfsm","y":"adimp","v":0.04},{"x":"lzfpm","y":"adimp","v":0.04},{"x":"lzsk","y":"adimp","v":0.03},{"x":"lzpk","y":"adimp","v":0.25},{"x":"pfree","y":"adimp","v":0.05},{"x":"kq","y":"adimp","v":0.03},{"x":"p","y":"adimp","v":0.03},
{"x":"uztwm","y":"pctim","v":0.34},{"x":"uzfwm","y":"pctim","v":0.03},{"x":"uzk","y":"pctim","v":0.03},{"x":"pctim","y":"pctim","v":0.03},{"x":"adimp","y":"pctim","v":0.03},{"x":"zperc","y":"pctim","v":0.03},{"x":"rexp","y":"pctim","v":0.03},{"x":"lztwm","y":"pctim","v":0.04},{"x":"lzfsm","y":"pctim","v":0.04},{"x":"lzfpm","y":"pctim","v":0.04},{"x":"lzsk","y":"pctim","v":0.03},{"x":"lzpk","y":"pctim","v":0.25},{"x":"pfree","y":"pctim","v":0.05},{"x":"kq","y":"pctim","v":0.03},{"x":"p","y":"pctim","v":0.03},
{"x":"uztwm","y":"uzk","v":0.32},{"x":"uzfwm","y":"uzk","v":0.03},{"x":"uzk","y":"uzk","v":0.03},{"x":"pctim","y":"uzk","v":0.03},{"x":"adimp","y":"uzk","v":0.03},{"x":"zperc","y":"uzk","v":0.03},{"x":"rexp","y":"uzk","v":0.03},{"x":"lztwm","y":"uzk","v":0.04},{"x":"lzfsm","y":"uzk","v":0.04},{"x":"lzfpm","y":"uzk","v":0.04},{"x":"lzsk","y":"uzk","v":0.03},{"x":"lzpk","y":"uzk","v":0.24},{"x":"pfree","y":"uzk","v":0.05},{"x":"kq","y":"uzk","v":0.03},{"x":"p","y":"uzk","v":0.03},
{"x":"uztwm","y":"uzfwm","v":0.32},{"x":"uzfwm","y":"uzfwm","v":0.03},{"x":"uzk","y":"uzfwm","v":0.03},{"x":"pctim","y":"uzfwm","v":0.03},{"x":"adimp","y":"uzfwm","v":0.03},{"x":"zperc","y":"uzfwm","v":0.03},{"x":"rexp","y":"uzfwm","v":0.03},{"x":"lztwm","y":"uzfwm","v":0.04},{"x":"lzfsm","y":"uzfwm","v":0.04},{"x":"lzfpm","y":"uzfwm","v":0.04},{"x":"lzsk","y":"uzfwm","v":0.03},{"x":"lzpk","y":"uzfwm","v":0.24},{"x":"pfree","y":"uzfwm","v":0.05},{"x":"kq","y":"uzfwm","v":0.03},{"x":"p","y":"uzfwm","v":0.04},
{"x":"uztwm","y":"uztwm","v":0.32},{"x":"uzfwm","y":"uztwm","v":0.32},{"x":"uzk","y":"uztwm","v":0.32},{"x":"pctim","y":"uztwm","v":0.345},{"x":"adimp","y":"uztwm","v":0.32},{"x":"zperc","y":"uztwm","v":0.32},{"x":"rexp","y":"uztwm","v":0.32},{"x":"lztwm","y":"uztwm","v":0.345},{"x":"lzfsm","y":"uztwm","v":0.345},{"x":"lzfpm","y":"uztwm","v":0.345},{"x":"lzsk","y":"uztwm","v":0.32},{"x":"lzpk","y":"uztwm","v":0.54},{"x":"pfree","y":"uztwm","v":0.37},{"x":"kq","y":"uztwm","v":0.32},{"x":"p","y":"uztwm","v":0.345}
],
"wb": [
{"x":"uztwm","y":"p","v":0.65},{"x":"uzfwm","y":"p","v":0.44},{"x":"uzk","y":"p","v":0.44},{"x":"pctim","y":"p","v":0.65},{"x":"adimp","y":"p","v":0.45},{"x":"zperc","y":"p","v":0.44},{"x":"rexp","y":"p","v":0.44},{"x":"lztwm","y":"p","v":0.44},{"x":"lzfsm","y":"p","v":0.44},{"x":"lzfpm","y":"p","v":0.44},{"x":"lzsk","y":"p","v":0.44},{"x":"lzpk","y":"p","v":0.47},{"x":"pfree","y":"p","v":0.44},{"x":"kq","y":"p","v":0.44},{"x":"p","y":"p","v":0.44},
{"x":"uztwm","y":"kq","v":0.24},{"x":"uzfwm","y":"kq","v":0.015},{"x":"uzk","y":"kq","v":0.015},{"x":"pctim","y":"kq","v":0.015},{"x":"adimp","y":"kq","v":0.015},{"x":"zperc","y":"kq","v":0.015},{"x":"rexp","y":"kq","v":0.015},{"x":"lztwm","y":"kq","v":0.015},{"x":"lzfsm","y":"kq","v":0.015},{"x":"lzfpm","y":"kq","v":0.015},{"x":"lzsk","y":"kq","v":0.015},{"x":"lzpk","y":"kq","v":0.02},{"x":"pfree","y":"kq","v":0.015},{"x":"kq","y":"kq","v":0.015},{"x":"p","y":"kq","v":0.45},
{"x":"uztwm","y":"pfree","v":0.24},{"x":"uzfwm","y":"pfree","v":0.015},{"x":"uzk","y":"pfree","v":0.015},{"x":"pctim","y":"pfree","v":0.02},{"x":"adimp","y":"pfree","v":0.015},{"x":"zperc","y":"pfree","v":0.015},{"x":"rexp","y":"pfree","v":0.015},{"x":"lztwm","y":"pfree","v":0.015},{"x":"lzfsm","y":"pfree","v":0.015},{"x":"lzfpm","y":"pfree","v":0.015},{"x":"lzsk","y":"pfree","v":0.015},{"x":"lzpk","y":"pfree","v":0.03},{"x":"pfree","y":"pfree","v":0.015},{"x":"kq","y":"pfree","v":0.015},{"x":"p","y":"pfree","v":0.44},
{"x":"uztwm","y":"lzpk","v":0.24},{"x":"uzfwm","y":"lzpk","v":0.015},{"x":"uzk","y":"lzpk","v":0.02},{"x":"pctim","y":"lzpk","v":0.015},{"x":"adimp","y":"lzpk","v":0.015},{"x":"zperc","y":"lzpk","v":0.015},{"x":"rexp","y":"lzpk","v":0.02},{"x":"lztwm","y":"lzpk","v":0.015},{"x":"lzfsm","y":"lzpk","v":0.015},{"x":"lzfpm","y":"lzpk","v":0.025},{"x":"lzsk","y":"lzpk","v":0.015},{"x":"lzpk","y":"lzpk","v":0.02},{"x":"pfree","y":"lzpk","v":0.03},{"x":"kq","y":"lzpk","v":0.015},{"x":"p","y":"lzpk","v":0.46},
{"x":"uztwm","y":"lzsk","v":0.24},{"x":"uzfwm","y":"lzsk","v":0.015},{"x":"uzk","y":"lzsk","v":0.015},{"x":"pctim","y":"lzsk","v":0.015},{"x":"adimp","y":"lzsk","v":0.015},{"x":"zperc","y":"lzsk","v":0.015},{"x":"rexp","y":"lzsk","v":0.015},{"x":"lztwm","y":"lzsk","v":0.015},{"x":"lzfsm","y":"lzsk","v":0.015},{"x":"lzfpm","y":"lzsk","v":0.015},{"x":"lzsk","y":"lzsk","v":0.015},{"x":"lzpk","y":"lzsk","v":0.02},{"x":"pfree","y":"lzsk","v":0.015},{"x":"kq","y":"lzsk","v":0.015},{"x":"p","y":"lzsk","v":0.44},
{"x":"uztwm","y":"lzfpm","v":0.24},{"x":"uzfwm","y":"lzfpm","v":0.015},{"x":"uzk","y":"lzfpm","v":0.015},{"x":"pctim","y":"lzfpm","v":0.015},{"x":"adimp","y":"lzfpm","v":0.015},{"x":"zperc","y":"lzfpm","v":0.015},{"x":"rexp","y":"lzfpm","v":0.015},{"x":"lztwm","y":"lzfpm","v":0.015},{"x":"lzfsm","y":"lzfpm","v":0.015},{"x":"lzfpm","y":"lzfpm","v":0.015},{"x":"lzsk","y":"lzfpm","v":0.015},{"x":"lzpk","y":"lzfpm","v":0.03},{"x":"pfree","y":"lzfpm","v":0.015},{"x":"kq","y":"lzfpm","v":0.015},{"x":"p","y":"lzfpm","v":0.44},
{"x":"uztwm","y":"lzfsm","v":0.24},{"x":"uzfwm","y":"lzfsm","v":0.015},{"x":"uzk","y":"lzfsm","v":0.015},{"x":"pctim","y":"lzfsm","v":0.015},{"x":"adimp","y":"lzfsm","v":0.015},{"x":"zperc","y":"lzfsm","v":0.015},{"x":"rexp","y":"lzfsm","v":0.015},{"x":"lztwm","y":"lzfsm","v":0.015},{"x":"lzfsm","y":"lzfsm","v":0.015},{"x":"lzfpm","y":"lzfsm","v":0.015},{"x":"lzsk","y":"lzfsm","v":0.015},{"x":"lzpk","y":"lzfsm","v":0.02},{"x":"pfree","y":"lzfsm","v":0.015},{"x":"kq","y":"lzfsm","v":0.015},{"x":"p","y":"lzfsm","v":0.44},
{"x":"uztwm","y":"lztwm","v":0.24},{"x":"uzfwm","y":"lztwm","v":0.015},{"x":"uzk","y":"lztwm","v":0.015},{"x":"pctim","y":"lztwm","v":0.015},{"x":"adimp","y":"lztwm","v":0.015},{"x":"zperc","y":"lztwm","v":0.015},{"x":"rexp","y":"lztwm","v":0.015},{"x":"lztwm","y":"lztwm","v":0.015},{"x":"lzfsm","y":"lztwm","v":0.015},{"x":"lzfpm","y":"lztwm","v":0.015},{"x":"lzsk","y":"lztwm","v":0.015},{"x":"lzpk","y":"lztwm","v":0.015},{"x":"pfree","y":"lztwm","v":0.015},{"x":"kq","y":"lztwm","v":0.015},{"x":"p","y":"lztwm","v":0.44},
{"x":"uztwm","y":"rexp","v":0.24},{"x":"uzfwm","y":"rexp","v":0.015},{"x":"uzk","y":"rexp","v":0.015},{"x":"pctim","y":"rexp","v":0.015},{"x":"adimp","y":"rexp","v":0.015},{"x":"zperc","y":"rexp","v":0.015},{"x":"rexp","y":"rexp","v":0.015},{"x":"lztwm","y":"rexp","v":0.015},{"x":"lzfsm","y":"rexp","v":0.015},{"x":"lzfpm","y":"rexp","v":0.015},{"x":"lzsk","y":"rexp","v":0.015},{"x":"lzpk","y":"rexp","v":0.015},{"x":"pfree","y":"rexp","v":0.015},{"x":"kq","y":"rexp","v":0.015},{"x":"p","y":"rexp","v":0.44},
{"x":"uztwm","y":"zperc","v":0.24},{"x":"uzfwm","y":"zperc","v":0.015},{"x":"uzk","y":"zperc","v":0.015},{"x":"pctim","y":"zperc","v":0.015},{"x":"adimp","y":"zperc","v":0.015},{"x":"zperc","y":"zperc","v":0.015},{"x":"rexp","y":"zperc","v":0.015},{"x":"lztwm","y":"zperc","v":0.015},{"x":"lzfsm","y":"zperc","v":0.015},{"x":"lzfpm","y":"zperc","v":0.015},{"x":"lzsk","y":"zperc","v":0.015},{"x":"lzpk","y":"zperc","v":0.015},{"x":"pfree","y":"zperc","v":0.015},{"x":"kq","y":"zperc","v":0.015},{"x":"p","y":"zperc","v":0.44},
{"x":"uztwm","y":"adimp","v":0.24},{"x":"uzfwm","y":"adimp","v":0.015},{"x":"uzk","y":"adimp","v":0.015},{"x":"pctim","y":"adimp","v":0.015},{"x":"adimp","y":"adimp","v":0.015},{"x":"zperc","y":"adimp","v":0.015},{"x":"rexp","y":"adimp","v":0.015},{"x":"lztwm","y":"adimp","v":0.015},{"x":"lzfsm","y":"adimp","v":0.015},{"x":"lzfpm","y":"adimp","v":0.015},{"x":"lzsk","y":"adimp","v":0.015},{"x":"lzpk","y":"adimp","v":0.015},{"x":"pfree","y":"adimp","v":0.015},{"x":"kq","y":"adimp","v":0.015},{"x":"p","y":"adimp","v":0.45},
{"x":"uztwm","y":"pctim","v":0.24},{"x":"uzfwm","y":"pctim","v":0.015},{"x":"uzk","y":"pctim","v":0.015},{"x":"pctim","y":"pctim","v":0.015},{"x":"adimp","y":"pctim","v":0.015},{"x":"zperc","y":"pctim","v":0.015},{"x":"rexp","y":"pctim","v":0.015},{"x":"lztwm","y":"pctim","v":0.015},{"x":"lzfsm","y":"pctim","v":0.015},{"x":"lzfpm","y":"pctim","v":0.015},{"x":"lzsk","y":"pctim","v":0.015},{"x":"lzpk","y":"pctim","v":0.015},{"x":"pfree","y":"pctim","v":0.015},{"x":"kq","y":"pctim","v":0.015},{"x":"p","y":"pctim","v":0.65},
{"x":"uztwm","y":"uzk","v":0.24},{"x":"uzfwm","y":"uzk","v":0.015},{"x":"uzk","y":"uzk","v":0.015},{"x":"pctim","y":"uzk","v":0.015},{"x":"adimp","y":"uzk","v":0.015},{"x":"zperc","y":"uzk","v":0.015},{"x":"rexp","y":"uzk","v":0.015},{"x":"lztwm","y":"uzk","v":0.015},{"x":"lzfsm","y":"uzk","v":0.015},{"x":"lzfpm","y":"uzk","v":0.015},{"x":"lzsk","y":"uzk","v":0.015},{"x":"lzpk","y":"uzk","v":0.015},{"x":"pfree","y":"uzk","v":0.015},{"x":"kq","y":"uzk","v":0.015},{"x":"p","y":"uzk","v":0.44},
{"x":"uztwm","y":"uzfwm","v":0.24},{"x":"uzfwm","y":"uzfwm","v":0.015},{"x":"uzk","y":"uzfwm","v":0.015},{"x":"pctim","y":"uzfwm","v":0.015},{"x":"adimp","y":"uzfwm","v":0.015},{"x":"zperc","y":"uzfwm","v":0.015},{"x":"rexp","y":"uzfwm","v":0.015},{"x":"lztwm","y":"uzfwm","v":0.015},{"x":"lzfsm","y":"uzfwm","v":0.015},{"x":"lzfpm","y":"uzfwm","v":0.015},{"x":"lzsk","y":"uzfwm","v":0.015},{"x":"lzpk","y":"uzfwm","v":0.015},{"x":"pfree","y":"uzfwm","v":0.015},{"x":"kq","y":"uzfwm","v":0.015},{"x":"p","y":"uzfwm","v":0.44},
{"x":"uztwm","y":"uztwm","v":0.24},{"x":"uzfwm","y":"uztwm","v":0.24},{"x":"uzk","y":"uztwm","v":0.24},{"x":"pctim","y":"uztwm","v":0.24},{"x":"adimp","y":"uztwm","v":0.24},{"x":"zperc","y":"uztwm","v":0.24},{"x":"rexp","y":"uztwm","v":0.24},{"x":"lztwm","y":"uztwm","v":0.24},{"x":"lzfsm","y":"uztwm","v":0.24},{"x":"lzfpm","y":"uztwm","v":0.245},{"x":"lzsk","y":"uztwm","v":0.245},{"x":"lzpk","y":"uztwm","v":0.25},{"x":"pfree","y":"uztwm","v":0.255},{"x":"kq","y":"uztwm","v":0.245},{"x":"p","y":"uztwm","v":0.65}
]
},
"vconcat": [
{
 "title": {"text": "Sobol' Interactions for Hungry Horse Basin, 7 Yrs"},
 "width": 698, "height": 206,
 "data": {"name": "hh"},
 "mark": {"type": "rect", "stroke": "black", "strokeWidth": 0.8},
 "encoding": {
  "x": {"field": "x", "type": "nominal", "sort": ["uztwm","uzfwm","uzk","pctim","adimp","zperc","rexp","lztwm","lzfsm","lzfpm","lzsk","lzpk","pfree","kq","p"], "axis": {"title": null, "labelAngle": 0}},
  "y": {"field": "y", "type": "nominal", "sort": ["p","kq","pfree","lzpk","lzsk","lzfpm","lzfsm","lztwm","rexp","zperc","adimp","pctim","uzk","uzfwm","uztwm"], "axis": {"title": "Inputs", "titlePadding": 10}},
  "color": {"field": "v", "type": "quantitative", "scale": {"domain": [0, 0.06125, 0.18375, 0.30625, 0.42875, 0.49], "range": ["#000080","#0000ff","#00ffff","#ffff00","#ff0000","#800000"], "interpolate": "rgb", "clamp": true}, "legend": {"title": null, "values": [0, 0.1, 0.2, 0.3, 0.4], "format": ".1~f", "gradientLength": 206}}
 }
},
{
 "title": {"text": "Sobol' Interaction Effects for Mica Basin, 7 Yrs"},
 "width": 698, "height": 206,
 "data": {"name": "mica"},
 "mark": {"type": "rect", "stroke": "black", "strokeWidth": 0.8},
 "encoding": {
  "x": {"field": "x", "type": "nominal", "sort": ["uztwm","uzfwm","uzk","pctim","adimp","zperc","rexp","lztwm","lzfsm","lzfpm","lzsk","lzpk","pfree","kq","p"], "axis": {"title": null, "labelAngle": 0}},
  "y": {"field": "y", "type": "nominal", "sort": ["p","kq","pfree","lzpk","lzsk","lzfpm","lzfsm","lztwm","rexp","zperc","adimp","pctim","uzk","uzfwm","uztwm"], "axis": {"title": "Inputs", "titlePadding": 10}},
  "color": {"field": "v", "type": "quantitative", "scale": {"domain": [0, 0.08125, 0.24375, 0.40625, 0.56875, 0.65], "range": ["#000080","#0000ff","#00ffff","#ffff00","#ff0000","#800000"], "interpolate": "rgb", "clamp": true}, "legend": {"title": null, "values": [0, 0.1, 0.2, 0.3, 0.4, 0.5, 0.6], "format": ".1~f", "gradientLength": 206}}
 }
},
{
 "title": {"text": "Sobol' Interactions for Milner Basin, 7 Yrs"},
 "width": 698, "height": 199,
 "data": {"name": "milner"},
 "mark": {"type": "rect", "stroke": "black", "strokeWidth": 0.8},
 "encoding": {
  "x": {"field": "x", "type": "nominal", "sort": ["uztwm","uzfwm","uzk","pctim","adimp","zperc","rexp","lztwm","lzfsm","lzfpm","lzsk","lzpk","pfree","kq","p"], "axis": {"title": null, "labelAngle": 0}},
  "y": {"field": "y", "type": "nominal", "sort": ["p","kq","pfree","lzpk","lzsk","lzfpm","lzfsm","lztwm","rexp","zperc","adimp","pctim","uzk","uzfwm","uztwm"], "axis": {"title": "Inputs", "titlePadding": 10}},
  "color": {"field": "v", "type": "quantitative", "scale": {"domain": [0, 0.11, 0.33, 0.55, 0.77, 0.88], "range": ["#000080","#0000ff","#00ffff","#ffff00","#ff0000","#800000"], "interpolate": "rgb", "clamp": true}, "legend": {"title": null, "values": [0, 0.1, 0.2, 0.3, 0.4, 0.5, 0.6, 0.7, 0.8], "format": ".1~f", "gradientLength": 199}}
 }
},
{
 "title": {"text": "Sobol' Interaction Effects for TWSullivan Basin, 7 Yrs"},
 "width": 698, "height": 187,
 "data": {"name": "tws"},
 "mark": {"type": "rect", "stroke": "black", "strokeWidth": 0.8},
 "encoding": {
  "x": {"field": "x", "type": "nominal", "sort": ["uztwm","uzfwm","uzk","pctim","adimp","zperc","rexp","lztwm","lzfsm","lzfpm","lzsk","lzpk","pfree","kq","p"], "axis": {"title": null, "labelAngle": 0}},
  "y": {"field": "y", "type": "nominal", "sort": ["p","kq","pfree","lzpk","lzsk","lzfpm","lzfsm","lztwm","rexp","zperc","adimp","pctim","uzk","uzfwm","uztwm"], "axis": {"title": "Inputs", "titlePadding": 10}},
  "color": {"field": "v", "type": "quantitative", "scale": {"domain": [0, 0.0675, 0.2025, 0.3375, 0.4725, 0.54], "range": ["#000080","#0000ff","#00ffff","#ffff00","#ff0000","#800000"], "interpolate": "rgb", "clamp": true}, "legend": {"title": null, "values": [0, 0.1, 0.2, 0.3, 0.4, 0.5], "format": ".1~f", "gradientLength": 187}}
 }
},
{
 "title": {"text": "Sobol' Interaction Effects for WhiteBird Basin, 7 Yrs"},
 "width": 698, "height": 189,
 "data": {"name": "wb"},
 "mark": {"type": "rect", "stroke": "black", "strokeWidth": 0.8},
 "encoding": {
  "x": {"field": "x", "type": "nominal", "sort": ["uztwm","uzfwm","uzk","pctim","adimp","zperc","rexp","lztwm","lzfsm","lzfpm","lzsk","lzpk","pfree","kq","p"], "axis": {"title": "Inputs", "labelAngle": 0, "titlePadding": 5}},
  "y": {"field": "y", "type": "nominal", "sort": ["p","kq","pfree","lzpk","lzsk","lzfpm","lzfsm","lztwm","rexp","zperc","adimp","pctim","uzk","uzfwm","uztwm"], "axis": {"title": "Inputs", "titlePadding": 10}},
  "color": {"field": "v", "type": "quantitative", "scale": {"domain": [0, 0.08125, 0.24375, 0.40625, 0.56875, 0.65], "range": ["#000080","#0000ff","#00ffff","#ffff00","#ff0000","#800000"], "interpolate": "rgb", "clamp": true}, "legend": {"title": null, "values": [0, 0.1, 0.2, 0.3, 0.4, 0.5, 0.6], "format": ".1~f", "gradientLength": 189}}
 }
}
]
}
